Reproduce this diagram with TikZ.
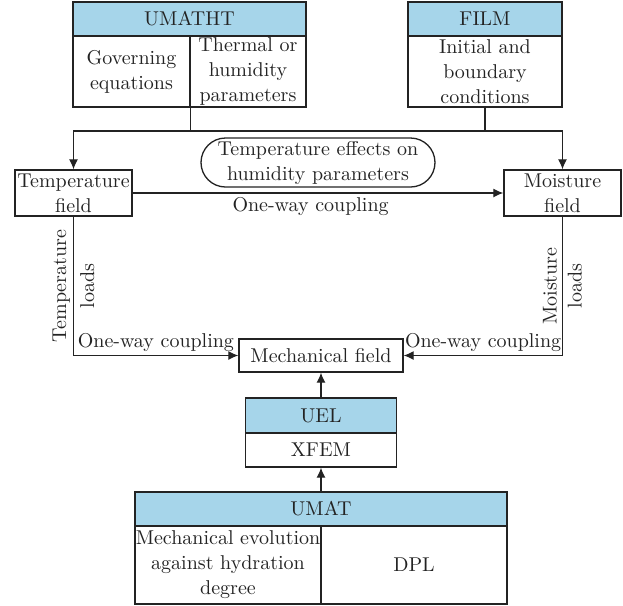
\documentclass[tikz,border=0pt]{standalone}
\usepackage{tikz}
\usetikzlibrary{arrows.meta,shapes.misc}

\definecolor{hdrblue}{RGB}{166,213,234}
\definecolor{inkgray}{RGB}{35,35,35}

\begin{document}
\begin{tikzpicture}[x=0.5pt,y=-0.5pt,
  every node/.style={font=\fontsize{10}{12.5}\selectfont,text=inkgray},
  wh/.style 2 args={minimum width=#1*0.5pt,minimum height=#2*0.5pt},
  cell/.style={draw=inkgray,line width=0.65pt,align=center,inner sep=0pt},
  hdr/.style={cell,fill=hdrblue},
  wire/.style={draw=inkgray,line width=0.6pt},
  arr/.style={wire,-{Latex[length=5pt,width=4.5pt]}}]
  \useasboundingbox (0,0) rectangle (623,606);
  \coordinate (bus) at (0,131);

  % UMATHT
  \node[hdr,wh={233}{34}] (umatht) at (189.5,19) {UMATHT};
  \node[cell,wh={117}{71}] (gov) at (131.5,71.5) {Governing\\equations};
  \node[cell,wh={116}{71}] (thermal) at (248,71.5) {Thermal or\\humidity\\parameters};

  % FILM
  \node[hdr,wh={154}{34}] (film) at (485,19) {FILM};
  \node[cell,wh={154}{71}] (initial) at (485,71.5) {Initial and\\boundary\\conditions};

  % Fields
  \node[cell,wh={117}{46}] (tempf) at (73.5,193) {Temperature\\field};
  \node[cell,wh={117}{46}] (moistf) at (562.5,193) {Moisture\\field};
  \node[cell,rounded rectangle,wh={234}{49}] (effects) at (318,162.5) {Temperature effects on\\humidity parameters};
  \node[cell,wh={164}{33}] (mech) at (321,355.5) {Mechanical field};

  % UEL
  \node[hdr,wh={151}{35}] (uel) at (321,415.5) {UEL};
  \node[cell,wh={151}{34}] (xfem) at (321,450) {XFEM};

  % UMAT
  \node[hdr,wh={372}{34}] (umat) at (321,509) {UMAT};
  \node[cell,wh={186}{78}] (mechevo) at (228,565) {Mechanical evolution\\against hydration\\degree};
  \node[cell,wh={186}{78}] (dpl) at (414,565) {DPL};

  % Connectors
  \draw[arr] (gov.south east) -- (gov.south east |- bus) -| (moistf.north);
  \draw[arr] (gov.south east |- bus) -| (tempf.north);
  \draw[wire] (initial.south) -- (initial.south |- bus);
  \draw[arr] (tempf) -- node[below,inner sep=2pt,pos=0.48] {One-way coupling} (moistf);
  \draw[arr] (tempf.south) |- node[pos=0.25,rotate=90,align=center] {Temperature\\[1.5pt]loads}
    node[pos=0.75,above,inner sep=1.5pt] {One-way coupling} (mech.west);
  \draw[arr] (moistf.south) |- node[pos=0.25,rotate=90,align=center] {Moisture\\loads}
    node[pos=0.75,above,inner sep=1.5pt] {One-way coupling} (mech.east);
  \draw[arr] (uel) -- (mech);
  \draw[arr] (umat) -- (xfem);
\end{tikzpicture}
\end{document}
